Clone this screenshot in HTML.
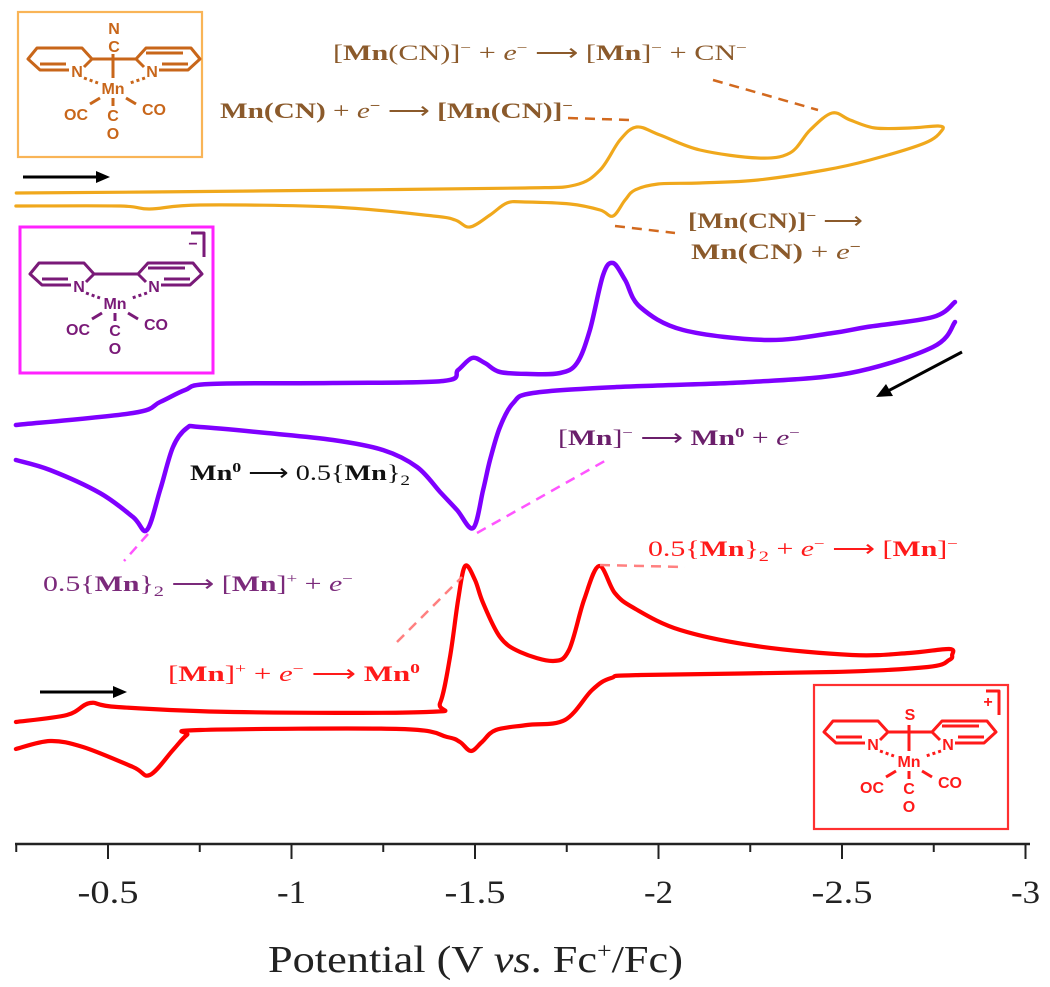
<!DOCTYPE html>
<html><head><meta charset="utf-8"><style>
html,body{margin:0;padding:0;background:#fff;}
svg{display:block;}
.lab{font-family:"Liberation Serif",serif;font-size:22px;}
.b{font-weight:bold;}
.st{font-family:"Liberation Sans",sans-serif;font-size:16px;text-anchor:middle;font-weight:bold;}
</style></head><body>
<svg id="chart" width="1050" height="987" viewBox="0 0 1050 987" xmlns="http://www.w3.org/2000/svg">
<g id="axis"></g>
<g id="traces"></g>
<g id="annot">
  <g><line x1="23" y1="177" x2="98" y2="177" stroke="#000" stroke-width="3"/><polygon points="110,177 96,171 96,183" fill="#000"/></g>
  <g><line x1="40" y1="692" x2="115" y2="692" stroke="#000" stroke-width="3"/><polygon points="127,692 113,686 113,698" fill="#000"/></g>
  <g><line x1="962" y1="352" x2="888" y2="391" stroke="#000" stroke-width="3"/><polygon points="876,397 886,384 893,396" fill="#000"/></g>
  <line x1="568" y1="118" x2="630" y2="120" stroke="#D2691E" stroke-width="2.5" stroke-dasharray="10,7"/>
  <line x1="713" y1="80" x2="818" y2="110" stroke="#D2691E" stroke-width="2.5" stroke-dasharray="10,7"/>
  <line x1="615" y1="226" x2="675" y2="233" stroke="#D2691E" stroke-width="2.5" stroke-dasharray="10,7"/>
  <line x1="477" y1="533" x2="610" y2="458" stroke="#FF55FF" stroke-width="2.5" stroke-dasharray="10,7"/>
  <line x1="148" y1="534" x2="124" y2="561" stroke="#FF55FF" stroke-width="2.5" stroke-dasharray="10,7"/>
  <line x1="397" y1="642" x2="462" y2="577" stroke="#FF8080" stroke-width="2.5" stroke-dasharray="10,7"/>
  <line x1="600" y1="565" x2="685" y2="567" stroke="#FF8080" stroke-width="2.5" stroke-dasharray="10,7"/>
  <text class="lab" x="333" y="60" fill="#8B5A2B" textLength="414" lengthAdjust="spacingAndGlyphs">[<tspan class="b">Mn</tspan>(CN)]<tspan dy="-8" font-size="14">−</tspan><tspan dy="8"> + </tspan><tspan font-style="italic">e</tspan><tspan dy="-8" font-size="14">−</tspan><tspan dy="8"> ⟶ [</tspan><tspan class="b">Mn</tspan>]<tspan dy="-8" font-size="14">−</tspan><tspan dy="8"> + CN</tspan><tspan dy="-8" font-size="14">−</tspan></text>
  <text class="lab b" x="220" y="118" fill="#8B5A2B" textLength="353" lengthAdjust="spacingAndGlyphs">Mn(CN)<tspan font-weight="normal"> + </tspan><tspan font-style="italic" font-weight="normal">e</tspan><tspan dy="-8" font-size="14">−</tspan><tspan dy="8" font-weight="normal"> ⟶ </tspan>[Mn(CN)]<tspan dy="-8" font-size="14">−</tspan></text>
  <text class="lab b" x="688" y="228" fill="#8B5A2B" textLength="175" lengthAdjust="spacingAndGlyphs">[Mn(CN)]<tspan dy="-8" font-size="14">−</tspan><tspan dy="8" font-weight="normal"> ⟶</tspan></text>
  <text class="lab b" x="691" y="259" fill="#8B5A2B" textLength="170" lengthAdjust="spacingAndGlyphs">Mn(CN)<tspan font-weight="normal"> +  </tspan><tspan font-style="italic" font-weight="normal">e</tspan><tspan dy="-8" font-size="14">−</tspan></text>
  <text class="lab" x="190" y="480" fill="#111" textLength="220" lengthAdjust="spacingAndGlyphs"><tspan class="b">Mn</tspan><tspan dy="-8" font-size="14" class="b">0</tspan><tspan dy="8"> ⟶ 0.5{</tspan><tspan class="b">Mn</tspan>}<tspan dy="5" font-size="15">2</tspan></text>
  <text class="lab" x="558" y="445" fill="#6B1F6B" textLength="242" lengthAdjust="spacingAndGlyphs">[<tspan class="b">Mn</tspan>]<tspan dy="-8" font-size="14">−</tspan><tspan dy="8"> ⟶ </tspan><tspan class="b">Mn</tspan><tspan dy="-8" font-size="14" class="b">0</tspan><tspan dy="8"> + </tspan><tspan font-style="italic">e</tspan><tspan dy="-8" font-size="14">−</tspan></text>
  <text class="lab" x="43" y="591" fill="#7B2A7B" textLength="310" lengthAdjust="spacingAndGlyphs">0.5{<tspan class="b">Mn</tspan>}<tspan dy="5" font-size="15">2</tspan><tspan dy="-5"> ⟶ [</tspan><tspan class="b">Mn</tspan>]<tspan dy="-8" font-size="14">+</tspan><tspan dy="8"> +  </tspan><tspan font-style="italic">e</tspan><tspan dy="-8" font-size="14">−</tspan></text>
  <text class="lab" x="168" y="681" fill="#FF1A1A" textLength="252" lengthAdjust="spacingAndGlyphs">[<tspan class="b">Mn</tspan>]<tspan dy="-8" font-size="14">+</tspan><tspan dy="8"> +  </tspan><tspan font-style="italic">e</tspan><tspan dy="-8" font-size="14">−</tspan><tspan dy="8"> ⟶ </tspan><tspan class="b">Mn</tspan><tspan dy="-8" font-size="14" class="b">0</tspan></text>
  <text class="lab" x="648" y="556" fill="#FF1A1A" textLength="310" lengthAdjust="spacingAndGlyphs">0.5{<tspan class="b">Mn</tspan>}<tspan dy="5" font-size="15">2</tspan><tspan dy="-5"> + </tspan><tspan font-style="italic">e</tspan><tspan dy="-8" font-size="14">−</tspan><tspan dy="8"> ⟶ [</tspan><tspan class="b">Mn</tspan>]<tspan dy="-8" font-size="14">−</tspan></text>
</g>
<g id="structs"></g>
</svg>
<script>
// ---- data (potential in V vs Fc+/Fc, current in arbitrary units) ----
const orangeV = [-0.25,-0.614,-1.159,-1.636,-1.773,-1.841,-1.895,-1.941,-2.004,-2.113,-2.271,-2.358,-2.413,-2.473,-2.522,-2.59,-2.685,-2.762,-2.773,-2.726,-2.576,-2.454,-2.271,-2.113,-1.999,-1.936,-1.909,-1.876,-1.841,-1.759,-1.636,-1.587,-1.541,-1.486,-1.446,-1.386,-1.113,-0.751,-0.614,-0.533,-0.249];
const orangeI = [1.75,2,2.5,3,3.75,7.5,15,18.25,16.25,12.5,10.5,11.75,17.5,21.75,20,18,18,18.5,17.5,14.25,10,7.5,5,4.25,4,2.5,0,-4,-2.5,-1,-0.5,-0.75,-3.75,-6.75,-5,-4,-1.75,-1.25,-2.25,-1.5,-1.5];
const purpleUpV = [-0.249,-0.568,-0.642,-0.71,-0.778,-1.113,-1.413,-1.454,-1.492,-1.527,-1.568,-1.65,-1.732,-1.778,-1.813,-1.849,-1.876,-1.909,-1.95,-2.067,-2.296,-2.475,-2.568,-2.748,-2.808];
const purpleUpI = [-1.25,1.75,4.5,7.5,9,9.25,9.75,12.5,15.5,14.25,12,11.5,11.75,14.25,22.5,36.25,39.25,35,28.25,22.5,20,21.75,23.25,25.75,29.5];
const purpleLoV = [-2.808,-2.748,-2.522,-2.249,-1.887,-1.658,-1.604,-1.568,-1.541,-1.522,-1.495,-1.451,-1.405,-1.342,-1.249,-1.113,-0.933,-0.751,-0.715,-0.677,-0.642,-0.606,-0.568,-0.478,-0.342,-0.249];
const purpleLoI = [24.5,18.25,11.75,9.5,8.25,6.75,4.25,-1.75,-10,-17.5,-27,-22.5,-18,-11.75,-7.5,-5,-3.25,-1.75,-2,-6.75,-17.5,-27.5,-24.25,-18.25,-12.5,-10];
const redV = [-0.249,-0.388,-0.451,-0.525,-0.841,-1.369,-1.405,-1.432,-1.454,-1.473,-1.5,-1.522,-1.568,-1.623,-1.713,-1.756,-1.797,-1.838,-1.881,-1.933,-2.059,-2.266,-2.527,-2.683,-2.792,-2.8,-2.792,-2.734,-2.476,-1.952,-1.871,-1.819,-1.745,-1.642,-1.557,-1.519,-1.489,-1.459,-1.424,-1.296,-0.751,-0.715,-0.677,-0.614,-0.568,-0.432,-0.342,-0.249];
const redI = [-0.5,1.25,4.25,3.25,2,2,4.25,15.75,30,38.5,35,29.25,20.75,17,14.75,17.5,30,38.5,31.75,28,22.5,18.5,16.25,16.75,17.75,16.25,15,13.25,12,11.25,10.5,7.5,0,-1.25,-2.5,-5.5,-7.75,-5.5,-4.25,-2.25,-2.5,-3.75,-7.5,-13.75,-11.75,-6.75,-5.25,-7.25];
const majorTicks = [-0.5,-1,-1.5,-2,-2.5,-3];
const tickLabels = ["-0.5","-1","-1.5","-2","-2.5","-3"];
const minorTicks = [-0.25,-0.75,-1.25,-1.75,-2.25,-2.75];
// ---- axis functions ----
const NS="http://www.w3.org/2000/svg";
function xOf(v){return 108 + (-v-0.5)*367;}
function yOf(i,off){return off - i*4;}
function mk(tag,attrs,parent){const e=document.createElementNS(NS,tag);for(const k in attrs)e.setAttribute(k,attrs[k]);parent.appendChild(e);return e;}
function smooth(pts){
  let d="M"+pts[0][0].toFixed(1)+","+pts[0][1].toFixed(1);
  for(let k=0;k<pts.length-1;k++){
    const p0=pts[Math.max(0,k-1)],p1=pts[k],p2=pts[k+1],p3=pts[Math.min(pts.length-1,k+2)];
    const t=6;
    const c1=[p1[0]+(p2[0]-p0[0])/t,p1[1]+(p2[1]-p0[1])/t];
    const c2=[p2[0]-(p3[0]-p1[0])/t,p2[1]-(p3[1]-p1[1])/t];
    d+=" C"+c1[0].toFixed(1)+","+c1[1].toFixed(1)+" "+c2[0].toFixed(1)+","+c2[1].toFixed(1)+" "+p2[0].toFixed(1)+","+p2[1].toFixed(1);
  }
  return d;
}
const traces=document.getElementById('traces');
function trace(V,I,off,color,w,name){
  const pts=V.map((v,k)=>[xOf(v),yOf(I[k],off)]);
  const p=mk('path',{d:smooth(pts),fill:'none',stroke:color,'stroke-width':w,'stroke-linejoin':'round','stroke-linecap':'round'},traces);
  
  
}
trace(orangeV,orangeI,200,'#F0A81C',3.2,'orange-mncn-trace');
trace(purpleUpV,purpleUpI,420,'#7F00FF',4.5,'purple-trace-upper');
trace(purpleLoV,purpleLoI,420,'#7F00FF',4.5,'purple-trace-lower');
trace(redV,redI,720,'#FF0000',4.2,'red-trace');
// ---- axis ----
const ax=document.getElementById('axis');
const al=mk('line',{x1:15,y1:844,x2:1030,y2:844,stroke:'#222','stroke-width':2.5},ax);


majorTicks.forEach((v,k)=>{
  const t=mk('line',{x1:xOf(v),y1:844,x2:xOf(v),y2:859,stroke:'#222','stroke-width':2},ax);
  
  
  const lbl=tickLabels[k];
  const w=lbl.length>2?61:29;
  const l=mk('text',{x:xOf(v)-w/2,y:903,'font-family':'"Liberation Serif",serif','font-size':33,fill:'#222',textLength:w,lengthAdjust:'spacingAndGlyphs'},ax);
  l.textContent=lbl;
  
  
});
minorTicks.forEach(v=>{
  const t=mk('line',{x1:xOf(v),y1:844,x2:xOf(v),y2:852,stroke:'#222','stroke-width':2},ax);
  
  
});
const ttl=mk('text',{x:268,y:972,'font-family':'"Liberation Serif",serif','font-size':38,fill:'#222',textLength:415,lengthAdjust:'spacingAndGlyphs'},ax);
ttl.innerHTML='Potential (V <tspan font-style="italic">vs</tspan>. Fc<tspan dy="-14" font-size="22">+</tspan><tspan dy="14">/Fc)</tspan>';


// ---- structures ----
const sg=document.getElementById('structs');
function structure(bx,by,bw,bh,boxColor,boxW,col,top,charge,name){
  const g=mk('g',{transform:'translate('+bx+','+by+')'},sg);
  
  
  mk('rect',{x:0,y:0,width:bw,height:bh,fill:'none',stroke:boxColor,'stroke-width':boxW},g);
  const s={stroke:col,'stroke-width':3,fill:'none','stroke-linejoin':'round'};
  mk('polyline',Object.assign({points:'51,58 22,58 10,47 19,36 64,36 74,47 66,55'},s),g);
  mk('polyline',Object.assign({points:'141,58 170,58 182,47 173,36 128,36 118,47 126,55'},s),g);
  mk('line',Object.assign({x1:22,y1:52,x2:48,y2:52,'stroke-width':1.8},s),g);
  mk('line',Object.assign({x1:170,y1:52,x2:144,y2:52,'stroke-width':1.8},s),g);
  mk('line',Object.assign({x1:128,y1:41,x2:165,y2:41,'stroke-width':1.8},s),g);
  mk('line',Object.assign({x1:74,y1:47,x2:118,y2:47},s),g);
  const txt=(x,y,t,fs)=>{const e=mk('text',{x:x,y:y,class:'st',fill:col,'font-size':fs||17},g);e.textContent=t;return e;};
  txt(59,65,'N');txt(134,65,'N');txt(95,82,'Mn',18);
  mk('line',Object.assign({x1:66,y1:66,x2:80,y2:71,'stroke-dasharray':'3,3','stroke-width':2},s),g);
  mk('line',Object.assign({x1:127,y1:66,x2:112,y2:71,'stroke-dasharray':'3,3','stroke-width':2},s),g);
  mk('line',Object.assign({x1:82,y1:86,x2:72,y2:92},s),g);
  mk('line',Object.assign({x1:108,y1:86,x2:118,y2:92},s),g);
  mk('line',Object.assign({x1:95,y1:86,x2:95,y2:94,'stroke-width':2},s),g);
  txt(58,108,'OC',19);txt(136,103,'CO',19);
  txt(95,109,'C',18);txt(95,127,'O',19);
  if(top==='CN'){txt(96,22,'N',18);txt(96,40,'C',18);mk('line',Object.assign({x1:95,y1:42,x2:95,y2:66,'stroke-width':1.6},s),g);}
  if(top==='S'){txt(96,35,'S',18);mk('line',Object.assign({x1:95,y1:40,x2:95,y2:66,'stroke-width':1.6},s),g);}
  if(charge){
    mk('polyline',Object.assign({points:(bw-22)+',6 '+(bw-9)+',6 '+(bw-9)+',30','stroke-width':2.4},s),g);
    txt(bw-20,22,charge,18);
  }
}
structure(18,12,184,145,'#F9B457',2.2,'#C8661A','CN',null,'mncn-structure-box');
structure(20,227,193,146,'#FF22FF',3,'#7A1A78',null,'−','mn-anion-structure-box');
structure(814,685,194,144,'#FF3030',2.2,'#FF1A1A','S','+','mn-cation-structure-box');
</script>
</body></html>
